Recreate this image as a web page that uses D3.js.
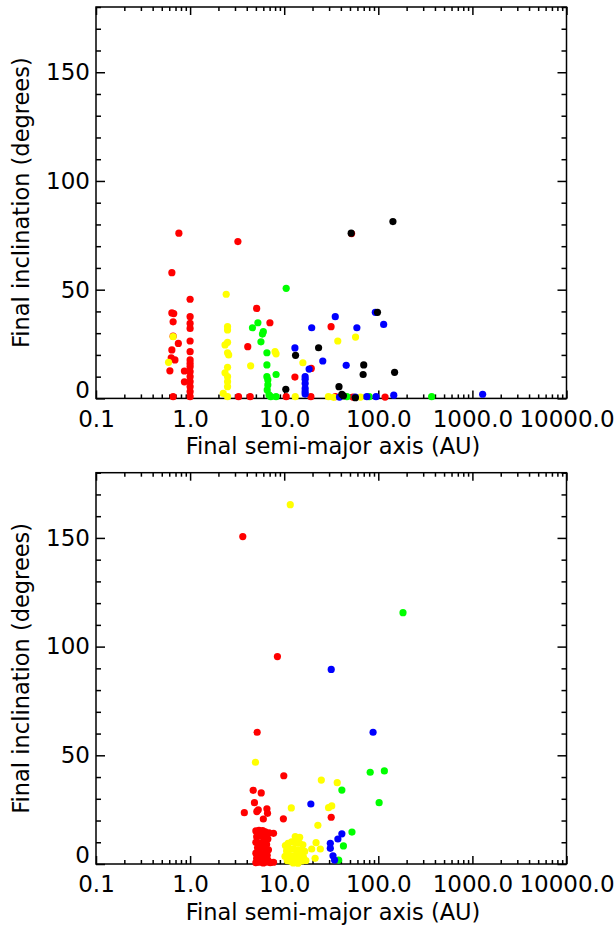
<!DOCTYPE html>
<html>
<head>
<meta charset="utf-8">
<script src="https://cdn.jsdelivr.net/npm/d3@7"></script>
<style>
  body { margin: 0; background: #fff; }
  svg { display: block; }
</style>
</head>
<body>
<svg id="chart" width="614" height="926"></svg>
<script>
// tick labels
const xTicks = [0.1, 1, 10, 100, 1000, 10000];
const xTickLabels = ["0.1", "1.0", "10.0", "100.0", "1000.0", "10000.0"];
const yTicks = [0, 50, 100, 150];

// top panel: [semi-major axis (AU), inclination (deg)]
const topRed = [
  [0.76, 76], [0.64, 57.8], [0.64, 39.3], [0.67, 39], [0.66, 35.2], [0.66, 28.6],
  [0.75, 25.3], [0.64, 22.3], [0.63, 18.7], [0.69, 17.7], [0.61, 12.7], [0.66, 0.8],
  [0.87, 12.6], [0.87, 7.6],
  [1.0, 45.6], [1.0, 37.6], [1.0, 34.5], [1.0, 32.2], [1.0, 26.4], [1.0, 21.5],
  [1.0, 17.7], [1.0, 16.1], [1.0, 14.6], [1.0, 12.3], [1.0, 10], [1.0, 7.7],
  [1.0, 5.4], [1.0, 3.1], [1.0, 0.8],
  [3.22, 72.1], [5.1, 41.4], [7.05, 34.8], [4.1, 23.8], [3.27, 0.8], [4.35, 0.8],
  [10.5, 0.8], [13.0, 9.8], [19.4, 13.8], [19.2, 0.8], [31.5, 33], [52, 75.8],
  [35, 0.8], [53.8, 0.6], [118, 0.6]
];
const topYellow = [
  [0.66, 28.4], [0.59, 16.6], [2.42, 47.9], [2.5, 33], [2.5, 31.5], [2.35, 24.6],
  [2.5, 25.8], [2.5, 21], [2.57, 20], [2.35, 11.8], [2.5, 14.3], [2.5, 10],
  [2.5, 7.7], [2.5, 5.4], [2.25, 2.3], [2.5, 0.8], [4.4, 15], [8.0, 21.5],
  [8.2, 20.5], [13.1, 0.8], [15.8, 16.4], [29.5, 0.8], [37.1, 26.4], [57.3, 28.2],
  [33.5, 0.5], [64.6, 0.6]
];
const topGreen = [
  [4.6, 32.5], [5.25, 34.8], [6.0, 30.7], [5.87, 29.6], [5.66, 26], [6.55, 21],
  [6.55, 15.4], [8.2, 11], [6.55, 10], [6.7, 8.5], [6.7, 6.2], [6.6, 3.9],
  [6.9, 1.6], [7.2, 0.8], [8.2, 0.8], [10.5, 50.6], [46.4, 0.8], [80, 0.8], [369, 0.8]
];
const topBlue = [
  [13, 23.2], [16.7, 10], [16.7, 8.8], [16.7, 6.9], [16.7, 4.6], [16.7, 3.1],
  [16.7, 2], [18.4, 13.5], [19.6, 32.5], [34.9, 37.6], [25.7, 17.2], [59.2, 32.5],
  [45.6, 15.2], [93, 39.6], [114, 34], [38.7, 0.6], [57, 0.6], [75.6, 0.8],
  [94.6, 0.8], [146, 1.5], [1285, 1.9]
];
const topBlack = [
  [10.4, 4.2], [13.2, 19.8], [23.2, 23.3], [38.2, 5.4], [41, 1.9], [42.6, 1.2],
  [70, 15.4], [69, 11], [98, 39.6], [143, 81.3], [51.5, 76], [149, 12], [57, 0.3]
];

// bottom panel
const botRed = [
  [3.63, 150.6], [8.47, 95.4], [5.16, 60.6], [9.9, 40.6], [4.68, 33.9], [5.7, 32.7],
  [4.83, 28.2], [3.77, 23.6], [5.12, 24.1], [5.3, 24.9], [6.55, 25.4], [6.65, 23.3],
  [6.0, 20.7], [9.8, 20.8], [31.6, 21.5], [7.7, 14.1],
  [5.0, 15.2], [5.4, 15.5], [5.9, 15.4], [6.3, 14.8], [6.9, 14.3], [5.1, 12.5],
  [5.6, 12.8], [6.2, 12], [6.7, 11.5], [5.0, 10], [5.5, 9.5], [6.0, 10.2],
  [6.5, 9], [5.2, 7.5], [5.7, 7.8], [6.3, 7], [6.8, 6.5], [5.0, 5],
  [5.5, 5.2], [6.0, 4.6], [6.6, 4], [5.1, 2.6], [5.6, 2.8], [6.1, 2.2],
  [6.7, 1.8], [5.0, 0.6], [5.5, 0.8], [6.0, 0.5], [6.5, 0.9], [7.1, 0.6], [7.7, 0.8]
];
const botYellow = [
  [11.6, 165.3], [4.95, 46.8], [24.8, 38.6], [36.6, 37.4], [11.9, 25.8], [29.6, 25.9],
  [32, 26.7], [22.8, 17.8], [21.8, 9.8], [19.6, 6.9], [24.2, 6.9], [21.3, 2.6],
  [13.1, 12.6], [14.6, 12.3],
  [10.3, 8.5], [11, 9.5], [12, 10.2], [13.2, 9.8], [14.5, 9.6], [15.8, 8.8],
  [10.6, 6], [11.5, 6.8], [12.6, 7], [13.8, 6.5], [15, 6.2], [16.5, 5.8],
  [10.2, 3.5], [11.2, 4], [12.2, 3.8], [13.4, 4.2], [14.6, 3.4], [16, 3.2],
  [10.8, 1.5], [11.8, 1.2], [13, 1.8], [14.2, 1], [15.4, 1.4], [17, 1.6],
  [12.5, 0.5], [14, 0.4]
];
const botGreen = [
  [183, 115.6], [82, 42.2], [116, 42.8], [41, 34], [102, 28.2], [52.5, 14.7],
  [42.6, 8.3], [37.9, 1.8]
];
const botBlue = [
  [31.6, 89.5], [88, 60.6], [19.2, 27.6], [41, 13.9], [37.2, 11.5], [30.9, 9.5],
  [30.9, 7.2], [33, 3.8], [34.3, 1.8]
];

const colors = {red: "#ff0000", yellow: "#ffff00", green: "#00ff00", blue: "#0000ff", black: "#000000"};

const svg = d3.select("#chart");
const font = "'DejaVu Sans', sans-serif";

let x = d3.scaleLog().domain([0.1, 10000]).range([96, 566.5]);

// minor ticks 2..9 in each decade
let minorX = [];
for (let e = -1; e < 4; e++) {
  for (let m = 2; m < 10; m++) minorX.push(m * Math.pow(10, e));
}
let minorY = d3.range(0, 181, 10).filter(d => d % 50 !== 0);

function styleAxis(g) {
  g.select(".domain").remove();
  g.selectAll("line").attr("stroke", "#000").attr("stroke-width", 1.5);
  g.selectAll("text").attr("font-family", font).attr("font-size", 23).attr("fill", "#000");
}

function drawPanel(top, bottom, series) {
  let y = d3.scaleLinear().domain([0, 180]).range([bottom, top]);
  let g = svg.append("g");

  // ticks: bottom / top
  g.append("g").attr("transform", `translate(0,${bottom})`)
    .call(d3.axisBottom(x).tickValues(minorX).tickSize(-4).tickFormat(""))
    .call(styleAxis);
  g.append("g").attr("transform", `translate(0,${bottom})`)
    .call(d3.axisBottom(x).tickValues(xTicks).tickSize(-8).tickPadding(12)
      .tickFormat((d, i) => xTickLabels[i]))
    .call(styleAxis);
  g.append("g").attr("transform", `translate(0,${top})`)
    .call(d3.axisTop(x).tickValues(minorX).tickSize(-4).tickFormat(""))
    .call(styleAxis);
  g.append("g").attr("transform", `translate(0,${top})`)
    .call(d3.axisTop(x).tickValues(xTicks).tickSize(-8).tickFormat(""))
    .call(styleAxis);

  // ticks: left / right
  g.append("g").attr("transform", `translate(${x.range()[0]},0)`)
    .call(d3.axisLeft(y).tickValues(minorY).tickSize(-5).tickFormat(""))
    .call(styleAxis);
  let gl = g.append("g").attr("transform", `translate(${x.range()[0]},0)`)
    .call(d3.axisLeft(y).tickValues(yTicks).tickSize(-9).tickPadding(6))
    .call(styleAxis);
  gl.selectAll("text").filter(d => d === 0).attr("dy", "-0.05em");
  g.append("g").attr("transform", `translate(${x.range()[1]},0)`)
    .call(d3.axisRight(y).tickValues(minorY).tickSize(-5).tickFormat(""))
    .call(styleAxis);
  g.append("g").attr("transform", `translate(${x.range()[1]},0)`)
    .call(d3.axisRight(y).tickValues(yTicks).tickSize(-9).tickFormat(""))
    .call(styleAxis);

  // frame
  g.append("rect")
    .attr("x", x.range()[0])
    .attr("y", top)
    .attr("width", x.range()[1] - x.range()[0])
    .attr("height", bottom - top)
    .attr("fill", "none")
    .attr("stroke", "#000")
    .attr("stroke-width", 1.5);

  // points
  for (let s of series) {
    g.append("g").selectAll("circle")
      .data(s.data)
      .join("circle")
      .attr("cx", d => x(d[0]))
      .attr("cy", d => y(d[1]))
      .attr("r", 3.6)
      .attr("fill", s.color);
  }

  // axis titles
  g.append("text")
    .attr("x", 333)
    .attr("y", bottom + 56)
    .attr("text-anchor", "middle")
    .attr("font-family", font)
    .attr("font-size", 22.5)
    .text("Final semi-major axis (AU)");

  g.append("text")
    .attr("transform", `translate(29,${(top + bottom) / 2}) rotate(-90)`)
    .attr("text-anchor", "middle")
    .attr("font-family", font)
    .attr("font-size", 22.5)
    .text("Final inclination (degrees)");
}

drawPanel(7, 398.4, [
  {data: topRed, color: colors.red},
  {data: topYellow, color: colors.yellow},
  {data: topGreen, color: colors.green},
  {data: topBlue, color: colors.blue},
  {data: topBlack, color: colors.black}
]);

drawPanel(472.7, 864, [
  {data: botRed, color: colors.red},
  {data: botYellow, color: colors.yellow},
  {data: botGreen, color: colors.green},
  {data: botBlue, color: colors.blue}
]);
</script>
</body>
</html>
